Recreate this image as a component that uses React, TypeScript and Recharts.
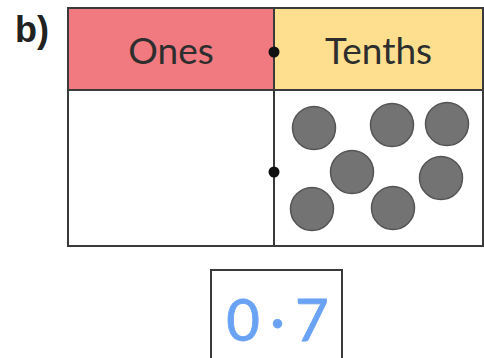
import React from 'react';
import {
  ScatterChart,
  Scatter,
  XAxis,
  YAxis,
  ReferenceArea,
  ReferenceLine,
  Label,
} from 'recharts';

// place value columns and what is written in them
const columns = ['Ones', 'Tenths'];
const counts = [0, 7];
const answer = '0·7';
const partLabel = 'b)';

// counter positions inside the tenths column (chart units)
const tenthCounters = [
  { x: 314, y: 128 },
  { x: 392, y: 125 },
  { x: 447, y: 124 },
  { x: 352, y: 172 },
  { x: 441, y: 178 },
  { x: 312, y: 209 },
  { x: 393, y: 208 },
];

// dots marking the decimal point on the divider
const pointMarks = [
  { x: 274, y: 52 },
  { x: 274, y: 172 },
];

const W = 484;
const H = 358;

const INK = '#3a3a3a';
const HEAD_COLORS = ['#f07a80', '#fddf8f'];

const Counter = (props: any) => (
  <circle cx={props.cx} cy={props.cy} r={21.5} fill="#737373" stroke="#555" strokeWidth={1.5} />
);

const PointDot = (props: any) => (
  <circle cx={props.cx} cy={props.cy} r={5.5} fill="#111" />
);

export default function App() {
  const left = 68;
  const mid = 274;
  const right = 483;
  const top = 8;
  const headBottom = 90;
  const bottom = 246;
  const colBounds = [
    [left, mid],
    [mid, right],
  ];

  return (
    <div style={{ position: 'absolute', left: 0, top: 0, background: '#fff' }}>
      <ScatterChart width={W} height={H} margin={{ top: 0, right: 0, bottom: 0, left: 0 }}>
        <XAxis type="number" dataKey="x" domain={[0, W]} hide />
        <YAxis type="number" dataKey="y" domain={[0, H]} reversed hide />

        {columns.map((name, i) => (
          <ReferenceArea
            key={name}
            x1={colBounds[i][0]}
            x2={colBounds[i][1]}
            y1={top}
            y2={headBottom}
            fill={HEAD_COLORS[i]}
            fillOpacity={1}
            stroke={INK}
            strokeWidth={2}
          >
            <Label
              value={name}
              position="center"
              fill="#2e2e2e"
              fontSize={37}
              fontFamily="Lato, 'Noto Sans', sans-serif"
              dy={2}
            />
          </ReferenceArea>
        ))}

        {columns.map((name, i) => (
          <ReferenceArea
            key={name + '-body'}
            x1={colBounds[i][0]}
            x2={colBounds[i][1]}
            y1={headBottom}
            y2={bottom}
            fill="#fff"
            fillOpacity={1}
            stroke={INK}
            strokeWidth={2}
          />
        ))}

        <ReferenceLine
          segment={[
            { x: mid, y: top },
            { x: mid, y: bottom },
          ]}
          stroke={INK}
          strokeWidth={2}
        />

        <ReferenceArea x1={8} x2={56} y1={6} y2={52} fill="none" stroke="none">
          <Label
            value={partLabel}
            position="center"
            fill="#222"
            fontSize={36}
            fontWeight="bold"
            fontFamily="'Liberation Sans', Arial, sans-serif"
          />
        </ReferenceArea>

        <ReferenceArea
          x1={211}
          x2={342}
          y1={270}
          y2={362}
          fill="#fff"
          fillOpacity={1}
          stroke={INK}
          strokeWidth={2}
          ifOverflow="visible"
        >
          <Label
            value={answer}
            position="center"
            fill="#6aa2f4"
            stroke="#6aa2f4"
            strokeWidth={0.8}
            fontSize={58}
            fontFamily="Lato, 'Noto Sans', sans-serif"
            letterSpacing={10}
            dx={6}
            dy={4}
          />
        </ReferenceArea>

        <Scatter
          data={tenthCounters.slice(0, counts[1])}
          shape={Counter}
          isAnimationActive={false}
        />
        <Scatter data={pointMarks} shape={PointDot} isAnimationActive={false} />
      </ScatterChart>
    </div>
  );
}
